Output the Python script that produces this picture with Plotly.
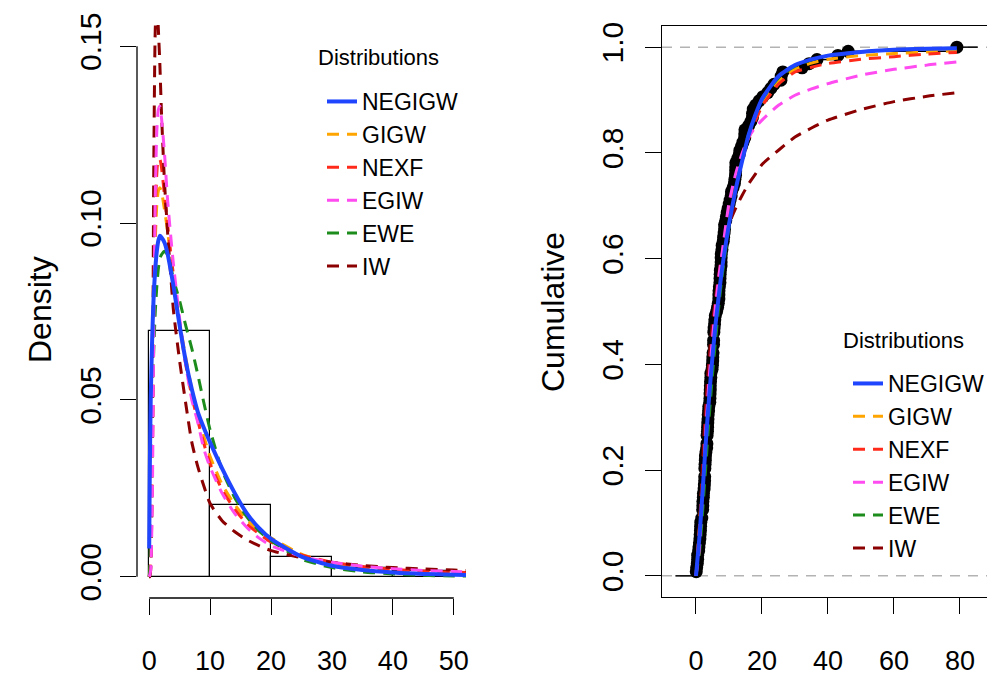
import numpy as np
import plotly.graph_objects as go

# ---------------- data ----------------
remission_times = [
    0.08, 0.20, 0.40, 0.50, 0.51, 0.81, 0.90, 1.05, 1.19, 1.26,
    1.35, 1.40, 1.46, 1.76, 2.02, 2.02, 2.07, 2.09, 2.23, 2.26,
    2.46, 2.54, 2.62, 2.64, 2.69, 2.69, 2.75, 2.83, 2.87, 3.02,
    3.25, 3.31, 3.36, 3.36, 3.48, 3.52, 3.57, 3.64, 3.70, 3.82,
    3.88, 4.18, 4.23, 4.26, 4.33, 4.34, 4.40, 4.50, 4.51, 4.87,
    4.98, 5.06, 5.09, 5.17, 5.32, 5.32, 5.34, 5.41, 5.41, 5.49,
    5.62, 5.71, 5.85, 6.25, 6.54, 6.76, 6.93, 6.94, 6.97, 7.09,
    7.26, 7.28, 7.32, 7.39, 7.59, 7.62, 7.63, 7.66, 7.87, 7.93,
    8.26, 8.37, 8.53, 8.65, 8.66, 9.02, 9.22, 9.47, 9.74, 10.06,
    10.34, 10.66, 10.75, 11.25, 11.64, 11.79, 11.98, 12.02, 12.03, 12.07,
    12.63, 13.11, 13.29, 13.80, 14.24, 14.76, 14.77, 14.83, 15.96, 16.62,
    17.12, 17.14, 17.36, 18.10, 19.13, 20.28, 21.73, 22.69, 23.63, 25.74,
    25.82, 26.31, 32.15, 34.26, 36.66, 43.01, 46.12, 79.05,
]

distributions = ["NEGIGW", "GIGW", "NEXF", "EGIW", "EWE", "IW"]

# fitted densities
dens_x = [0, 0.1, 0.25, 0.5, 0.75, 1, 1.25, 1.5, 1.75, 2, 2.5, 3, 3.5, 4, 5, 6, 7, 8, 9, 10,
          12, 14, 16, 18, 20, 25, 30, 35, 40, 45, 50, 52]
dens_negigw = [0.008, 0.03, 0.05, 0.068, 0.08, 0.087, 0.092, 0.095, 0.0964, 0.096, 0.0945, 0.0915,
               0.087, 0.082, 0.071, 0.061, 0.053, 0.0465, 0.042, 0.038, 0.0305, 0.0238, 0.018,
               0.0138, 0.0107, 0.0057, 0.0031, 0.0019, 0.0012, 0.0008, 0.0006, 0.0005]
dens_gigw = [0, 0.001, 0.005, 0.03, 0.07, 0.095, 0.105, 0.109, 0.11, 0.109, 0.104, 0.098, 0.091,
             0.084, 0.072, 0.062, 0.053, 0.046, 0.0395, 0.034, 0.026, 0.0205, 0.0162, 0.0132,
             0.011, 0.0064, 0.0037, 0.0024, 0.0016, 0.0012, 0.0009, 0.0008]
dens_nexf = [0, 0.001, 0.004, 0.03, 0.075, 0.103, 0.114, 0.118, 0.118, 0.116, 0.108, 0.1, 0.092,
             0.085, 0.071, 0.06, 0.051, 0.044, 0.0375, 0.032, 0.0245, 0.0192, 0.015, 0.0122,
             0.0098, 0.0062, 0.0041, 0.0029, 0.0021, 0.0016, 0.0013, 0.0012]
dens_egiw = [0, 0.0005, 0.002, 0.02, 0.07, 0.108, 0.126, 0.132, 0.133, 0.13, 0.12, 0.107, 0.097,
             0.088, 0.073, 0.06, 0.05, 0.0435, 0.036, 0.031, 0.0235, 0.018, 0.014, 0.011,
             0.0088, 0.0058, 0.0041, 0.003, 0.0023, 0.0018, 0.0015, 0.0014]
dens_ewe = [0, 0.002, 0.02, 0.048, 0.064, 0.075, 0.082, 0.087, 0.09, 0.091, 0.092, 0.091, 0.088,
            0.084, 0.078, 0.071, 0.0645, 0.057, 0.049, 0.0415, 0.030, 0.0225, 0.017, 0.013,
            0.0102, 0.005, 0.0026, 0.0014, 0.0008, 0.0004, 0.0002, 0.0002]
dens_iw = [0, 0, 0.002, 0.03, 0.115, 0.155, 0.163, 0.155, 0.145, 0.132, 0.112, 0.098, 0.086,
           0.075, 0.061, 0.049, 0.038, 0.031, 0.0255, 0.0207, 0.0158, 0.0128, 0.0105, 0.0088,
           0.0074, 0.0054, 0.0041, 0.0032, 0.0026, 0.0022, 0.0019, 0.0018]

# fitted CDFs
cdf_x = [0, 1, 2, 3, 4, 5, 6, 7, 8, 10, 12, 14, 16, 18, 20, 25, 30, 35, 40, 50, 60, 70, 79.05]
cdf_negigw = [0, 0.07, 0.16, 0.255, 0.34, 0.415, 0.48, 0.535, 0.585, 0.665, 0.73, 0.785, 0.835,
              0.872, 0.902, 0.945, 0.966, 0.977, 0.984, 0.991, 0.995, 0.997, 0.998]
cdf_gigw = [0, 0.085, 0.19, 0.29, 0.375, 0.45, 0.51, 0.56, 0.605, 0.68, 0.74, 0.79, 0.83,
            0.865, 0.893, 0.935, 0.958, 0.97, 0.977, 0.984, 0.988, 0.991, 0.993]
cdf_nexf = [0, 0.09, 0.2, 0.3, 0.385, 0.455, 0.515, 0.565, 0.61, 0.68, 0.74, 0.788, 0.828,
            0.86, 0.888, 0.93, 0.953, 0.962, 0.969, 0.977, 0.982, 0.987, 0.99]
cdf_egiw = [0, 0.05, 0.16, 0.28, 0.375, 0.45, 0.515, 0.57, 0.615, 0.705, 0.76, 0.8, 0.83,
            0.848, 0.862, 0.89, 0.909, 0.921, 0.931, 0.947, 0.958, 0.966, 0.972]
cdf_ewe = [0, 0.04, 0.12, 0.21, 0.3, 0.38, 0.45, 0.515, 0.57, 0.66, 0.735, 0.793, 0.836,
           0.87, 0.9, 0.942, 0.964, 0.976, 0.984, 0.991, 0.995, 0.997, 0.998]
cdf_iw = [0, 0.065, 0.215, 0.33, 0.415, 0.48, 0.53, 0.575, 0.61, 0.665, 0.695, 0.72, 0.742,
          0.76, 0.778, 0.805, 0.83, 0.847, 0.862, 0.882, 0.897, 0.907, 0.914]

left_xticks = [0, 10, 20, 30, 40, 50]
left_yticks = [0, 0.05, 0.10, 0.15]
left_yticklabels = ["0.00", "0.05", "0.10", "0.15"]
right_xticks = [0, 20, 40, 60, 80]
right_yticks = [0, 0.2, 0.4, 0.6, 0.8, 1.0]
right_yticklabels = ["0.0", "0.2", "0.4", "0.6", "0.8", "1.0"]
ref_levels = [0, 1]

# ---------------- styles ----------------
colors = {"NEGIGW": "#1f45ff", "GIGW": "#ffa500", "NEXF": "#ff2a1a",
          "EGIW": "#ff4cf0", "EWE": "#1c8c1c", "IW": "#8b0000"}
DASH = "12px,8px"
FONT = "Liberation Sans, Arial, sans-serif"

dens = {"NEGIGW": dens_negigw, "GIGW": dens_gigw, "NEXF": dens_nexf,
        "EGIW": dens_egiw, "EWE": dens_ewe, "IW": dens_iw}
cdfs = {"NEGIGW": cdf_negigw, "GIGW": cdf_gigw, "NEXF": cdf_nexf,
        "EGIW": cdf_egiw, "EWE": cdf_ewe, "IW": cdf_iw}

fig = go.Figure()

# histogram
fig.add_trace(go.Histogram(
    x=remission_times, histnorm="probability density",
    xbins=dict(start=0, end=80, size=10), autobinx=False,
    marker=dict(color="rgba(255,255,255,0)", line=dict(color="black", width=1.2)),
    xaxis="x", yaxis="y", showlegend=False, hoverinfo="skip"))

# density curves (dashed first, solid on top)
order = ["GIGW", "NEXF", "EWE", "IW", "EGIW", "NEGIGW"]
for name in order:
    solid = name == "NEGIGW"
    fig.add_trace(go.Scatter(
        x=dens_x, y=dens[name], mode="lines", name=name,
        line=dict(color=colors[name], width=4 if solid else 3,
                  dash="solid" if solid else DASH, shape="spline", smoothing=0.6),
        xaxis="x", yaxis="y", legend="legend",
        legendrank=distributions.index(name) + 1))

# ECDF
data = np.sort(np.array(remission_times))
n = len(data)
knots = np.unique(data)
Fk = np.searchsorted(data, knots, side="right") / n
dr = max(0.08 * (knots[-1] - knots[0]), np.median(np.diff(knots)))
seg_x, seg_y = [knots[0] - dr, knots[0], None], [0, 0, None]
for i in range(len(knots)):
    x1 = knots[i + 1] if i + 1 < len(knots) else knots[-1] + dr
    seg_x += [knots[i], x1, None]
    seg_y += [Fk[i], Fk[i], None]
fig.add_trace(go.Scatter(x=seg_x, y=seg_y, mode="lines",
                         line=dict(color="black", width=1.5),
                         xaxis="x2", yaxis="y2", showlegend=False, hoverinfo="skip"))
fig.add_trace(go.Scatter(x=knots, y=Fk, mode="markers",
                         marker=dict(color="black", size=13),
                         xaxis="x2", yaxis="y2", showlegend=False))

for name in order:
    solid = name == "NEGIGW"
    fig.add_trace(go.Scatter(
        x=cdf_x, y=cdfs[name], mode="lines", name=name,
        line=dict(color=colors[name], width=4 if solid else 3,
                  dash="solid" if solid else DASH, shape="spline", smoothing=0.6),
        xaxis="x2", yaxis="y2", legend="legend2",
        legendrank=distributions.index(name) + 1))

# the page body has an 8px margin, so the figure is placed at (8, 8)
OFF = 8
W, H = 995 - OFF, 682 - OFF
def px(v):
    return (v - OFF) / W
def py(v):
    return 1 - (v - OFF) / H

axis_common = dict(showgrid=False, zeroline=False, ticks="outside", ticklen=16,
                   tickwidth=1.3, tickcolor="black", automargin=False)

shapes = []
# R-style axis lines for the left panel
shapes.append(dict(type="line", xref="x domain", yref="y", x0=0, x1=0,
                   y0=min(left_yticks), y1=max(left_yticks),
                   line=dict(color="black", width=1.3)))
shapes.append(dict(type="line", xref="x", yref="y domain",
                   x0=min(left_xticks), x1=max(left_xticks), y0=0, y1=0,
                   line=dict(color="black", width=1.3)))
for lv in ref_levels:
    shapes.append(dict(type="line", xref="x2 domain", yref="y2", x0=0, x1=1, y0=lv, y1=lv,
                       line=dict(color="#b3b3b3", width=1.5, dash="10px,8px"), layer="below"))

legend_common = dict(bgcolor="rgba(0,0,0,0)", borderwidth=0,
                     font=dict(family=FONT, size=23, color="black"),
                     itemwidth=30, tracegroupgap=0, xanchor="left", yanchor="top")

tick_x_font = dict(family=FONT, size=27, color="black")
tick_y_font = dict(family=FONT, size=30, color="black")

fig.update_layout(
    width=W, height=H, margin=dict(l=0, r=0, t=0, b=0, autoexpand=False),
    paper_bgcolor="white", plot_bgcolor="white", showlegend=True,
    xaxis=dict(domain=[px(137), px(466)], range=[-2, 52], tickvals=left_xticks,
               tickfont=tick_x_font, showline=False, anchor="y",
               ticklabelstandoff=23, **axis_common),
    yaxis=dict(domain=[py(598), py(25)], range=[-0.006, 0.156], tickvals=left_yticks,
               ticktext=left_yticklabels, tickangle=-90, tickfont=tick_y_font,
               showline=False, anchor="x", ticklabelstandoff=7, **axis_common),
    xaxis2=dict(domain=[px(662), px(992)], range=[-10.3, 89.7], tickvals=right_xticks,
                tickfont=tick_x_font, showline=True, mirror=True, linecolor="black",
                linewidth=1.3, anchor="y2", ticklabelstandoff=23, **axis_common),
    yaxis2=dict(domain=[py(597), py(26)], range=[-0.04, 1.04], tickvals=right_yticks,
                ticktext=right_yticklabels, tickangle=-90, tickfont=tick_y_font,
                showline=True, mirror=True, linecolor="black", linewidth=1.3,
                anchor="x2", ticklabelstandoff=10, **axis_common),
    legend=dict(x=px(322), y=py(80), **legend_common),
    legend2=dict(x=px(848), y=py(362), **legend_common),
    shapes=shapes,
    annotations=[
        dict(text="Density", x=px(40), y=py(310), xref="paper", yref="paper",
             xanchor="center", yanchor="middle", showarrow=False, textangle=-90,
             font=dict(family=FONT, size=32, color="black")),
        dict(text="Cumulative", x=px(553), y=py(312), xref="paper", yref="paper",
             xanchor="center", yanchor="middle", showarrow=False, textangle=-90,
             font=dict(family=FONT, size=32, color="black")),
        dict(text="Distributions", x=px(378), y=py(57), xref="paper", yref="paper",
             xanchor="center", yanchor="middle", showarrow=False,
             font=dict(family=FONT, size=22, color="black")),
        dict(text="Distributions", x=px(903), y=py(340), xref="paper", yref="paper",
             xanchor="center", yanchor="middle", showarrow=False,
             font=dict(family=FONT, size=22, color="black")),
    ],
)

fig.write_html("out.html")
